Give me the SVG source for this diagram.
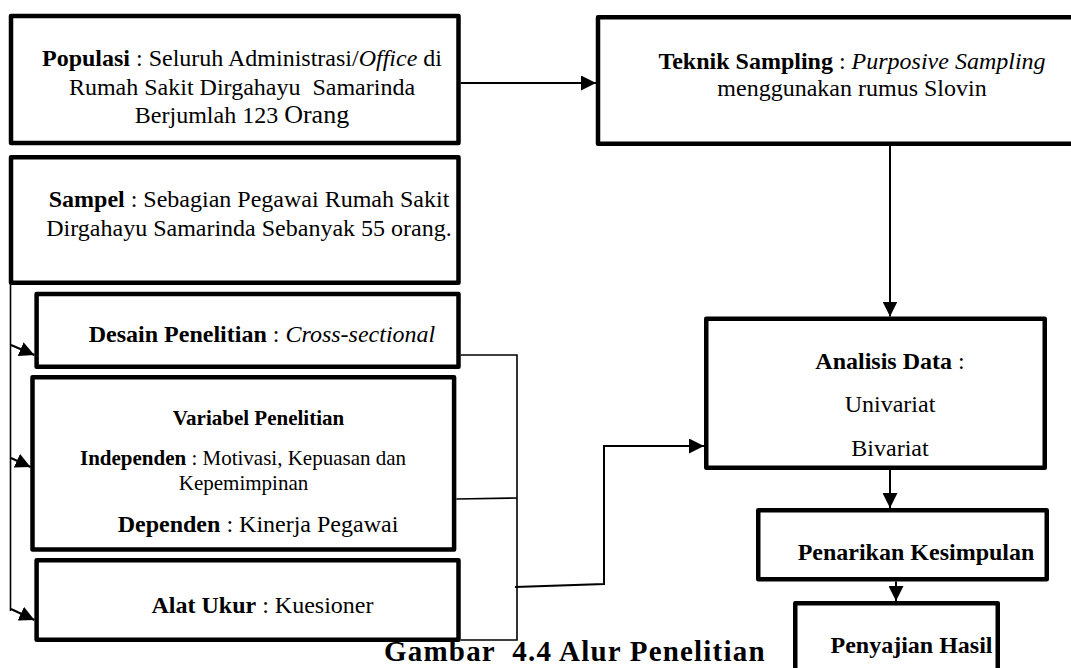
<svg xmlns="http://www.w3.org/2000/svg" width="1071" height="668" viewBox="0 0 1071 668">
<defs>
<style>
.box{fill:#fff;stroke:#000;stroke-width:4.5;stroke-linejoin:round}
.t{font-family:"Liberation Serif","Times New Roman",serif;font-size:24px;fill:#000;text-anchor:middle}
.s{font-size:21px}
.b{font-weight:bold}
.i{font-style:italic}
.ln{fill:none;stroke:#000;stroke-width:2}
.lt{fill:none;stroke:#000;stroke-width:1.6}
</style>
<marker id="ah" viewBox="0 0 15 15" refX="15" refY="7.5" markerWidth="15" markerHeight="15" markerUnits="userSpaceOnUse" orient="auto">
<path d="M0,0 L15,7.5 L0,15 z" fill="#000"/>
</marker>
</defs>
<rect width="1071" height="668" fill="#fff"/>

<g id="populasi">
<rect class="box" x="11" y="16" width="447.5" height="127"/>
<text class="t" x="242" y="66"><tspan class="b">Populasi</tspan> : Seluruh Administrasi/<tspan class="i">Office</tspan> di</text>
<text class="t" x="242" y="94.5" xml:space="preserve">Rumah Sakit Dirgahayu  Samarinda</text>
<text class="t" x="242" y="123">Berjumlah 123 <tspan style="font-size:26px">Orang</tspan></text>
</g>

<g id="sampel">
<rect class="box" x="11" y="157.25" width="447.5" height="125.5"/>
<text class="t" x="249" y="207"><tspan class="b">Sampel</tspan> : Sebagian Pegawai Rumah Sakit</text>
<text class="t" x="249" y="235.5">Dirgahayu Samarinda Sebanyak 55 orang.</text>
</g>

<g id="teknik">
<rect class="box" x="598" y="17.25" width="520" height="126.5"/>
<text class="t" x="852" y="69"><tspan class="b">Teknik Sampling</tspan> : <tspan class="i">Purposive Sampling</tspan></text>
<text class="t" x="852" y="96">menggunakan rumus Slovin</text>
</g>

<g id="desain">
<rect class="box" x="36.6" y="294" width="421.9" height="72.75"/>
<text class="t" x="262" y="342"><tspan class="b">Desain Penelitian</tspan> : <tspan class="i">Cross-sectional</tspan></text>
</g>

<g id="variabel">
<rect class="box" x="32.5" y="377.25" width="421.6" height="172.2"/>
<text class="t s b" x="258.5" y="425">Variabel Penelitian</text>
<text class="t s" x="243" y="465"><tspan class="b">Independen</tspan> : Motivasi, Kepuasan dan</text>
<text class="t s" x="243.5" y="489.5">Kepemimpinan</text>
<text class="t" x="258" y="532"><tspan class="b">Dependen</tspan> : Kinerja Pegawai</text>
</g>

<g id="alat-ukur">
<rect class="box" x="36.6" y="560.25" width="421.9" height="79.5"/>
<text class="t" x="262.5" y="613"><tspan class="b">Alat Ukur</tspan> : Kuesioner</text>
</g>

<g id="analisis">
<rect class="box" x="706.25" y="318.75" width="338.5" height="149"/>
<text class="t" x="890" y="369"><tspan class="b">Analisis Data</tspan> :</text>
<text class="t" x="890" y="412">Univariat</text>
<text class="t" x="890" y="456">Bivariat</text>
</g>

<g id="penarikan">
<rect class="box" x="758.25" y="510.25" width="288.5" height="69"/>
<text class="t b" x="916" y="560">Penarikan Kesimpulan</text>
</g>

<g id="penyajian">
<rect class="box" x="795.25" y="603.25" width="202.5" height="100"/>
<text class="t b" x="911.5" y="653">Penyajian Hasil</text>
</g>

<g id="connectors">
<line class="ln" x1="460.7" y1="83" x2="596" y2="83" marker-end="url(#ah)"/>
<line class="ln" x1="890" y1="146" x2="890" y2="316.5" marker-end="url(#ah)"/>
<line class="ln" x1="890" y1="470" x2="890" y2="508" marker-end="url(#ah)"/>
<line class="ln" x1="896" y1="581.5" x2="896" y2="601" marker-end="url(#ah)"/>
<polyline class="ln" points="515,587 604,584 604,446 704,446" marker-end="url(#ah)"/>
<polyline class="lt" points="460.7,355 517,355 517,640 460.7,640"/>
<line class="lt" x1="456.3" y1="499" x2="517" y2="498"/>
<line class="lt" x1="10.5" y1="285" x2="10.5" y2="611"/>
<line class="ln" x1="11" y1="345" x2="34.4" y2="355" marker-end="url(#ah)"/>
<line class="ln" x1="11" y1="458" x2="30.5" y2="467" marker-end="url(#ah)"/>
<line class="ln" x1="11" y1="609" x2="34.4" y2="620" marker-end="url(#ah)"/>
</g>

<g id="caption">
<text class="t b" style="font-size:29px;letter-spacing:1.2px;text-anchor:start" x="384" y="661" xml:space="preserve">Gambar  4.4 Alur Penelitian</text>
</g>
</svg>
